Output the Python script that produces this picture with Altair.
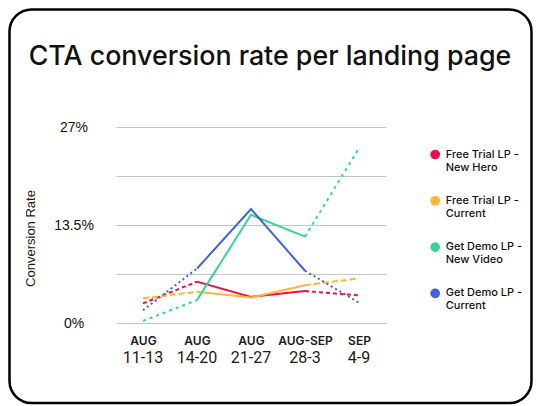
import altair as alt
import pandas as pd

periods = ["AUG 11-13", "AUG 14-20", "AUG 21-27", "AUG-SEP 28-3", "SEP 4-9"]
days = ["11-13", "14-20", "21-27", "28-3", "4-9"]
series = ["Free Trial LP - New Hero", "Free Trial LP - Current",
          "Get Demo LP - New Video", "Get Demo LP - Current"]
colors = ["#F50A45", "#FFB537", "#34D693", "#4062DA"]
new_hero = [2.7, 5.7, 3.6, 4.4, 3.8]
ft_current = [3.4, 4.3, 3.5, 5.2, 6.15]
new_video = [0.3, 3.15, 14.9, 11.9, 24.1]
gd_current = [1.75, 7.5, 15.7, 7.2, 2.8]

values = {series[0]: new_hero, series[1]: ft_current,
          series[2]: new_video, series[3]: gd_current}

rows = []
for s in series:
    for i, p in enumerate(periods):
        rows.append({"series": s, "period": p, "i": i, "rate": values[s][i]})
df = pd.DataFrame(rows)

# solid middle part, dashed first and last segments
solid = df[(df.i >= 1) & (df.i <= 3)]
dashed = pd.concat([df[df.i <= 1].assign(seg="a"), df[df.i >= 3].assign(seg="b")])

W, H = 307, 196

x = alt.X("period:N", sort=periods, title=None,
          scale=alt.Scale(domain=periods, range=[16, 286]),
          axis=alt.Axis(labelExpr="split(datum.label, ' ')[0]", labelAngle=0,
                        domain=False, ticks=False, tickSize=0, grid=False,
                        labelPadding=17, labelBaseline="middle",
                        labelFont="Inter", labelFontSize=12, labelFontWeight=600,
                        labelColor="#1a1a1a"))
y = alt.Y("rate:Q", title="Conversion Rate",
          scale=alt.Scale(domain=[0, 27], nice=False),
          axis=alt.Axis(values=[0, 6.75, 13.5, 20.25, 27],
                        labelExpr="datum.value % 13.5 == 0 ? datum.value + '%' : ''",
                        domain=False, ticks=False, tickSize=0,
                        gridColor="#c6c6ca", gridWidth=1,
                        labelFont="Liberation Sans", labelFontSize=14,
                        labelColor="#111", labelAlign="center", labelPadding=26.5,
                        labelBaseline="middle",
                        titleFont="Liberation Sans", titleFontSize=13,
                        titleFontWeight="normal", titleColor="#1a1a1a",
                        titleAngle=270, titleX=-70, titleY=111,
                        titleAlign="center", titleBaseline="middle"))

color_scale = alt.Scale(domain=series, range=colors)
line_color = alt.Color("series:N", scale=color_scale, legend=None)

# invisible points only carry the legend (filled dots)
legend_points = alt.Chart(solid).mark_point(filled=True, opacity=0).encode(
    x=x, y=y,
    color=alt.Color("series:N", scale=color_scale,
                    legend=alt.Legend(orient="none", legendX=329.7, legendY=22,
                                      title=None, symbolType="circle",
                                      symbolSize=95, symbolStrokeWidth=0,
                                      symbolOpacity=1, symbolDash=[1, 0],
                                      labelFont="Inter", labelFontSize=11,
                                      labelFontWeight=500, labelColor="#111",
                                      rowPadding=21.3, labelOffset=5, padding=0,
                                      labelExpr="[split(datum.label, ' - ')[0] + ' -', split(datum.label, ' - ')[1]]")))

solid_lines = alt.Chart(solid).mark_line(strokeWidth=2).encode(x=x, y=y, color=line_color)

dashed_lines = alt.Chart(dashed).mark_line(strokeWidth=2).encode(
    x=x, y=y, color=line_color,
    strokeDash=alt.StrokeDash("series:N", legend=None,
                              scale=alt.Scale(domain=series,
                                              range=[[4, 3], [6, 3], [3, 4], [2, 3]])),
    detail="seg:N")

day_labels = alt.Chart(pd.DataFrame({"period": periods, "day": days})).mark_text(
    font="Roboto", fontSize=16, fontWeight=400, color="#1a1a1a", baseline="middle"
).encode(x=alt.X("period:N", sort=periods, scale=alt.Scale(domain=periods, range=[16, 286])),
         y=alt.value(231), text="day:N")

one = pd.DataFrame({"t": ["CTA conversion rate per landing page"]})
title = alt.Chart(one).mark_text(
    font="Inter", fontSize=26.8, fontWeight=500, color="#111", baseline="alphabetic"
).encode(x=alt.value(170), y=alt.value(-62), text="t:N")

frame = alt.Chart(one).mark_rect(
    cornerRadius=22, stroke="black", strokeWidth=2.5, fillOpacity=0
).encode(x=alt.value(-90.5), x2=alt.value(431.5), y=alt.value(-117.5), y2=alt.value(276))

chart = alt.layer(frame, title, legend_points, solid_lines, dashed_lines, day_labels).properties(
    width=W, height=H,
    autosize=alt.AutoSizeParams(type="none"),
    padding={"left": 92, "top": 119, "right": 126, "bottom": 82},
    background="white"
).configure_view(stroke=None)

chart.save("out.html", embed_options={"renderer": "svg", "actions": False})
